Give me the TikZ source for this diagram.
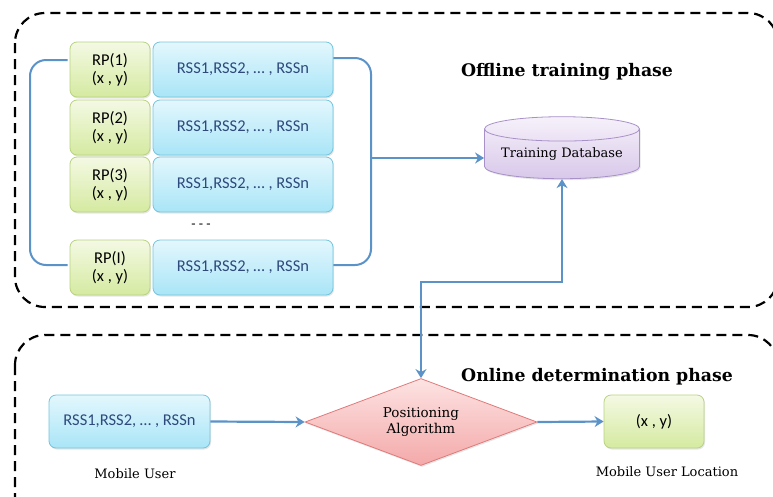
\documentclass[tikz,border=0pt]{standalone}
\usepackage{fontspec}
\setmainfont{DejaVu Serif}
\newfontfamily\boxfont{Carlito}
\usetikzlibrary{shapes.geometric,arrows.meta,shadows}

\definecolor{rpline}{HTML}{B8D37F}
\definecolor{rptop}{HTML}{F4F9E4}
\definecolor{rpbot}{HTML}{D5EAA0}
\definecolor{rssline}{HTML}{75C4DD}
\definecolor{rsstop}{HTML}{E3F7FD}
\definecolor{rssbot}{HTML}{A9E5F7}
\definecolor{rsstext}{HTML}{2E4A7D}
\definecolor{dbline}{HTML}{A890C8}
\definecolor{dbtop}{HTML}{F6F1FA}
\definecolor{dbbot}{HTML}{D8C8EA}
\definecolor{algoline}{HTML}{E07A7A}
\definecolor{algotop}{HTML}{FDE3E3}
\definecolor{algobot}{HTML}{F4A9A9}
\definecolor{flowblue}{HTML}{5B92C8}

\begin{document}
\begin{tikzpicture}[x=1pt,y=-1pt]
        \tikzstyle{shade}=[drop shadow={opacity=0.2,shadow xshift=1pt,shadow yshift=-1.5pt}]
        \tikzstyle{rp}=[shade,draw=rpline,thick,rounded corners=7pt,top color=rptop,bottom color=rpbot,minimum width=80pt,minimum height=55pt,inner sep=0pt,align=center,font=\boxfont\fontsize{16.5}{18}\selectfont]
        \tikzstyle{rss}=[shade,draw=rssline,thick,rounded corners=7pt,top color=rsstop,bottom color=rssbot,minimum width=180pt,minimum height=55pt,inner sep=0pt,align=center,text=rsstext,font=\boxfont\fontsize{16.5}{18}\selectfont]
        \tikzstyle{db}=[shade,cylinder,shape border rotate=90,aspect=0.2,draw=dbline,thick,top color=dbtop,bottom color=dbbot,minimum width=155pt,minimum height=62pt,inner sep=0pt,font=\fontsize{13}{15}\selectfont]
        \tikzstyle{algo}=[shade,diamond,aspect=2.67,draw=algoline,thick,top color=algotop,bottom color=algobot,minimum width=232pt,minimum height=87pt,inner sep=0pt,align=center,font=\fontsize{13.5}{16}\selectfont]
        \tikzstyle{phase}=[draw=black,line width=2.2pt,dash pattern=on 10pt off 6pt,rounded corners=30pt]
        \tikzstyle{bracket}=[draw=flowblue,line width=2pt,rounded corners=16pt]
        \tikzstyle{flow}=[draw=flowblue,line width=2.2pt,-{Stealth[length=9pt,width=11pt]}]
        \tikzstyle{title}=[font=\bfseries\fontsize{17.3}{19}\selectfont]
        \tikzstyle{caption}=[font=\fontsize{13}{15}\selectfont]
        \useasboundingbox (0,0) rectangle (773,496);
        \draw[phase] (15,13) rectangle (778,307);
        \draw[phase] (15,335) rectangle (778,530);
        \node[title] (offline) at (567,72) {Offline training phase};
        \node[title] (online) at (597,377) {Online determination phase};
        \node[rp] (rp1) at (110,69.5) {RP(1)\\(x , y)};
        \node[rss] (rss1) at (243,69.5) {RSS1,RSS2, … , RSSn};
        \node[rp] (rp2) at (110,127.5) {RP(2)\\(x , y)};
        \node[rss] (rss2) at (243,127.5) {RSS1,RSS2, … , RSSn};
        \node[rp] (rp3) at (110,184.5) {RP(3)\\(x , y)};
        \node[rss] (rss3) at (243,184.5) {RSS1,RSS2, … , RSSn};
        \node[rp] (rpI) at (110,267.5) {RP(I)\\(x , y)};
        \node[rss] (rssI) at (243,267.5) {RSS1,RSS2, … , RSSn};
        \node[font=\boxfont\fontsize{14}{16}\selectfont] (gap) at (201,226) {- - -};
        \draw[bracket] ([xshift=-2pt]rp1.west |- 0,60) -- (30,60) -- (30,265) -- ([xshift=-2pt]rpI.west |- 0,265);
        \draw[bracket] (rss1.east |- 0,58) -- (371,58) -- (371,265) -- (rssI.east |- 0,265);
        \coordinate (join) at (371,158);
        \node[db] (db) at (562,154) {Training Database};
        \draw[flow] (join) -- (join -| db.west);
        \node[rss,minimum width=161pt,minimum height=53pt] (mu) at (129.5,421.5) {RSS1,RSS2, … , RSSn};
        \node[caption] (mulabel) at (135,474) {Mobile User};
        \node[algo] (algo) at (421,422) {Positioning\\Algorithm};
        \node[rp,minimum width=100pt,minimum height=53pt] (loc) at (654,421.5) {(x , y)};
        \node[caption] (loclabel) at (667,472) {Mobile User Location};
        \draw[flow] (mu.east) -- (algo.west);
        \draw[flow] (algo.east) -- (loc.west);
        \draw[flow,{Stealth[length=9pt,width=11pt]}-{Stealth[length=9pt,width=11pt]}] (algo.north) -- (421,282) -| (db.south);
    \end{tikzpicture}
\end{document}
